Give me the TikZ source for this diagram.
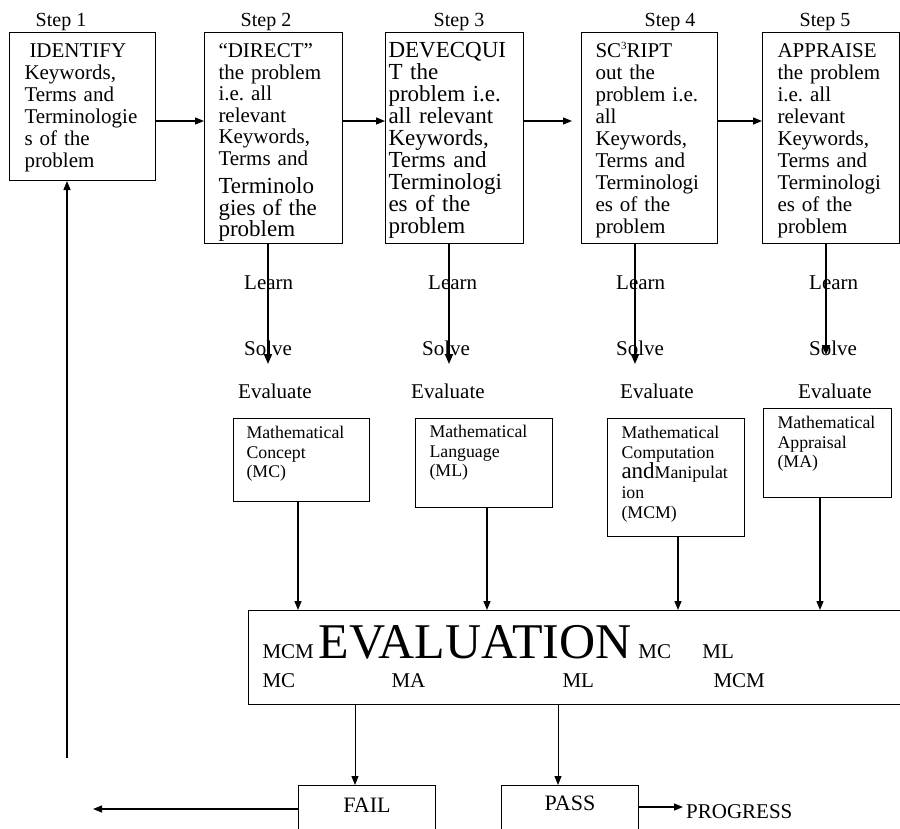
\documentclass[tikz,border=0pt]{standalone}
\usepackage{fontspec}
\setmainfont{Liberation Serif}
\usepackage{tikz}
\usetikzlibrary{arrows.meta, positioning, calc}
\frenchspacing
\newcommand{\boxfont}{\fontsize{21}{22}\selectfont}
\newcommand{\wideboxfont}{\fontsize{23}{22}\selectfont}
\newcommand{\smallboxfont}{\fontsize{17.8}{19.6}\selectfont}
\newcommand{\labelfont}{\fontsize{20}{22}\selectfont}
\newcommand{\bigfont}{\fontsize{50}{50}\selectfont}
\newcommand{\tinysup}[1]{\raisebox{8pt}{\fontsize{11}{11}\selectfont #1}}
\tikzset{
  stepbox/.style={rectangle, draw, line width=1pt, anchor=north west,
    align=left, inner ysep=0pt, text height=25pt, font=\boxfont},
  mathbox/.style={rectangle, draw, line width=1pt, anchor=north west,
    align=left, inner ysep=0pt, inner xsep=14pt, font=\smallboxfont},
  evalbox/.style={rectangle, draw, line width=1pt, anchor=north west,
    align=left, inner ysep=0pt, inner xsep=14pt, font=\boxfont},
  resultbox/.style={rectangle, draw, line width=1pt, anchor=north west,
    align=center, inner sep=0pt, text width=137pt, text depth=45pt,
    font=\fontsize{22}{22}\selectfont},
  steplabel/.style={anchor=base, inner sep=0pt, font=\labelfont},
  actlabel/.style={anchor=base west, inner sep=0pt, font=\boxfont},
  arrow/.style={-{Triangle[length=9pt,width=7pt]}, line width=1.3pt},
  stemarrow/.style={-{Triangle[length=10pt,width=8pt]}, line width=1.8pt}
}

\begin{document}
\begin{tikzpicture}[x=1pt, y=-1pt]
  \useasboundingbox (0,0) rectangle (900,828);

  % Step labels
  \node[steplabel] (l1) at (61,26) {Step 1};
  \node[steplabel] (l2) at (266,26) {Step 2};
  \node[steplabel] (l3) at (459,26) {Step 3};
  \node[steplabel] (l4) at (670,26) {Step 4};
  \node[steplabel] (l5) at (825,26) {Step 5};

  % Step boxes
  \node[stepbox, inner xsep=15pt, text width=116pt, text depth=123pt] (s1) at (9,32)
    {\hspace*{5pt}IDENTIFY\\ Keywords,\\ Terms and\\ Terminologie\\ s of the\\ problem};
  \node[stepbox, inner xsep=14pt, text width=110pt, text depth=186pt,
    font=\fontsize{21}{21.5}\selectfont] (s2) at (204,32)
    {``DIRECT''\\ the problem\\ i.e. all\\ relevant\\ Keywords,\\ Terms and\\[6pt]
     \wideboxfont Terminolo\\ gies of the\\ problem};
  \node[stepbox, inner xsep=3pt, text width=132pt, text depth=186pt, font=\wideboxfont] (s3) at (385,32)
    {DEVECQUI\\ T the\\ problem i.e.\\ all relevant\\ Keywords,\\ Terms and\\ Terminologi\\ es of the\\ problem};
  \node[stepbox, inner xsep=14pt, text width=108pt, text depth=186pt] (s4) at (581,32)
    {SC\tinysup{3}RIPT\\ out the\\ problem i.e.\\ all\\ Keywords,\\ Terms and\\ Terminologi\\ es of the\\ problem};
  \node[stepbox, inner xsep=15pt, text width=107pt, text depth=186pt] (s5) at (762,32)
    {APPRAISE\\ the problem\\ i.e. all\\ relevant\\ Keywords,\\ Terms and\\ Terminologi\\ es of the\\ problem};

  % Step arrows
  \coordinate (row) at (0,121);
  \draw[arrow] (s1.east |- row) -- (s2.west |- row);
  \draw[arrow] (s2.east |- row) -- (s3.west |- row);
  \draw[arrow, shorten >=9pt] (s3.east |- row) -- (s4.west |- row);
  \draw[arrow] (s4.east |- row) -- (s5.west |- row);

  % Learn / Solve / Evaluate
  \node[actlabel] (learn2) at (244,289) {Learn};
  \node[actlabel] (learn3) at (428,289) {Learn};
  \node[actlabel] (learn4) at (616,289) {Learn};
  \node[actlabel] (learn5) at (809,289) {Learn};
  \node[actlabel] (solve2) at (244,355) {Solve};
  \node[actlabel] (solve3) at (422,355) {Solve};
  \node[actlabel] (solve4) at (616,355) {Solve};
  \node[actlabel] (solve5) at (809,355) {Solve};
  \node[actlabel] (eval2) at (238,398) {Evaluate};
  \node[actlabel] (eval3) at (411,398) {Evaluate};
  \node[actlabel] (eval4) at (620,398) {Evaluate};
  \node[actlabel] (eval5) at (798,398) {Evaluate};

  % Down arrows from the steps
  \coordinate (d2) at (268,364);
  \coordinate (d3) at (449,364);
  \coordinate (d4) at (635,364);
  \coordinate (d5) at (826,355);
  \draw[stemarrow] (s2.south -| d2) -- (d2);
  \draw[stemarrow] (s3.south -| d3) -- (d3);
  \draw[stemarrow] (s4.south -| d4) -- (d4);
  \draw[stemarrow] (s5.south -| d5) -- (d5);

  % Mathematical boxes
  \node[mathbox, inner xsep=13pt, text width=110pt, text height=20pt, text depth=63pt] (mc) at (233,418)
    {Mathematical\\ Concept\\ (MC)};
  \node[mathbox, text width=109pt, text height=19pt, text depth=70pt] (ml) at (415,418)
    {Mathematical\\ Language\\ (ML)};
  \node[mathbox, text width=109pt, text height=20pt, text depth=98pt] (mcm) at (607,418)
    {Mathematical\\ Computation\\ {\fontsize{23}{19.6}\selectfont and}Manipulat\\ ion\\ (MCM)};
  \node[mathbox, text width=100pt, text height=20pt, text depth=69pt] (ma) at (763,408)
    {Mathematical\\ Appraisal\\ (MA)};

  % Evaluation
  \node[evalbox, text width=634pt, text height=48pt, text depth=46pt] (evaluation) at (248,610)
    {\makebox[56pt][l]{MCM}{\bigfont EVALUATION}\makebox[71pt][l]{\hspace{7pt}MC}ML\\[7pt]
     \makebox[129pt][l]{MC}\makebox[171pt][l]{MA}\makebox[151pt][l]{ML}MCM};
  \coordinate (c1) at (298,0);
  \coordinate (c2) at (487,0);
  \coordinate (c3) at (678,0);
  \coordinate (c4) at (820,0);
  \draw[arrow] (mc.south -| c1) -- (evaluation.north -| c1);
  \draw[arrow] (ml.south -| c2) -- (evaluation.north -| c2);
  \draw[arrow] (mcm.south -| c3) -- (evaluation.north -| c3);
  \draw[arrow] (ma.south -| c4) -- (evaluation.north -| c4);

  % Fail / Pass
  \node[resultbox, text height=27pt] (fail) at (298,785) {FAIL};
  \node[resultbox, text height=25pt] (pass) at (501,785) {PASS};
  \coordinate (f1) at (355,0);
  \coordinate (p1) at (558,0);
  \draw[arrow, line width=1pt] (evaluation.south -| f1) -- (fail.north -| f1);
  \draw[arrow, line width=1pt] (evaluation.south -| p1) -- (pass.north -| p1);

  % Outcomes
  \coordinate (back) at (93,809);
  \draw[arrow] (fail.west |- back) -- (back);
  \coordinate (again) at (67,758);
  \draw[arrow] (again) -- (again |- s1.south);
  \coordinate (onward) at (683,807);
  \draw[arrow] (pass.east |- onward) -- (onward);
  \node[actlabel] (progress) at (686,818) {PROGRESS};
\end{tikzpicture}
\end{document}
